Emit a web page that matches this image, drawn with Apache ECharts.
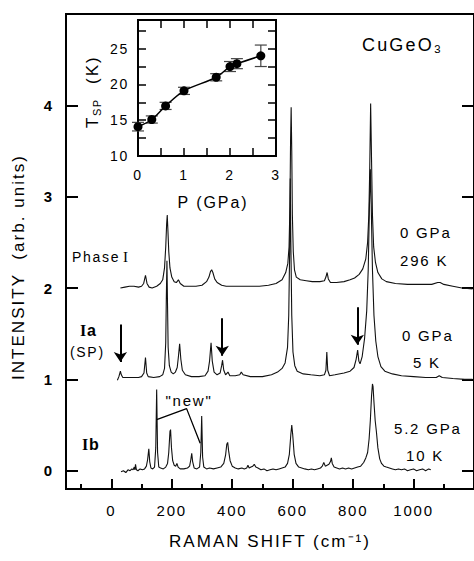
<!DOCTYPE html>
<html>
<head>
<meta charset="utf-8">
<script src="https://cdn.jsdelivr.net/npm/echarts@6/dist/echarts.min.js"></script>
<style>
  html, body { margin: 0; padding: 0; background: #fff; }
  #main { width: 474px; height: 561px; }
  #main text { letter-spacing: 0.12em; }
</style>
</head>
<body>
<div id="main"></div>
<script>
// Raman spectra, [shift cm-1, intensity], offset by 2 / 1 / 0
var phaseI = [
  [30, 2.00], [45, 2.01], [60, 2.02], [75, 2.02], [90, 2.01], [100, 2.02], [107, 2.05], [113, 2.14], [118, 2.05],
  [125, 2.01], [135, 2.00], [150, 2.02], [162, 2.05], [170, 2.09], [176, 2.22], [180, 2.45], [183, 2.70], [185, 2.80],
  [187, 2.65], [190, 2.40], [194, 2.22], [200, 2.12], [208, 2.07], [215, 2.06], [222, 2.09], [228, 2.05], [240, 2.02],
  [260, 2.02], [280, 2.02], [300, 2.03], [315, 2.07], [323, 2.12], [328, 2.18], [332, 2.20], [336, 2.17], [342, 2.10],
  [350, 2.06], [365, 2.03], [380, 2.02], [400, 2.02], [430, 2.02], [460, 2.02], [490, 2.02], [520, 2.03], [545, 2.05],
  [565, 2.09], [577, 2.17], [584, 2.27], [588, 2.45], [591, 2.90], [593, 3.60], [595, 3.98], [597, 3.50], [599, 2.80],
  [602, 2.40], [606, 2.20], [612, 2.12], [625, 2.09], [645, 2.08], [665, 2.07], [690, 2.07], [705, 2.08], [710, 2.12],
  [714, 2.17], [718, 2.10], [725, 2.06], [745, 2.06], [770, 2.07], [790, 2.09], [805, 2.11], [820, 2.15], [832, 2.21],
  [842, 2.32], [848, 2.50], [852, 2.80], [855, 3.30], [858, 4.02], [861, 3.40], [864, 2.80], [868, 2.45], [874, 2.28],
  [882, 2.17], [895, 2.10], [910, 2.07], [940, 2.05], [980, 2.04], [1020, 2.04], [1060, 2.04], [1080, 2.06], [1088, 2.06],
  [1100, 2.04], [1130, 2.02], [1160, 2.00], [1195, 1.99]
];
var phaseIa = [
  [20, 0.99], [25, 1.03], [30, 1.09], [33, 1.05], [38, 1.02], [50, 1.02], [70, 1.02], [90, 1.02], [100, 1.03],
  [108, 1.07], [113, 1.24], [117, 1.07], [122, 1.03], [140, 1.02], [160, 1.03], [170, 1.05], [176, 1.12], [180, 1.40],
  [182, 1.90], [184, 2.30], [186, 1.80], [188, 1.35], [192, 1.15], [198, 1.08], [205, 1.06], [212, 1.08], [218, 1.13],
  [222, 1.25], [226, 1.39], [230, 1.22], [235, 1.10], [245, 1.05], [265, 1.03], [290, 1.03], [310, 1.04], [320, 1.09],
  [325, 1.20], [330, 1.40], [334, 1.20], [340, 1.08], [350, 1.05], [360, 1.07], [365, 1.15], [368, 1.21], [372, 1.10],
  [378, 1.05], [386, 1.08], [392, 1.04], [410, 1.04], [425, 1.05], [430, 1.08], [436, 1.05], [460, 1.03], [500, 1.03],
  [530, 1.05], [550, 1.08], [565, 1.12], [575, 1.18], [583, 1.35], [587, 1.70], [590, 2.40], [592, 3.20], [594, 2.50],
  [597, 1.70], [601, 1.30], [607, 1.15], [615, 1.09], [635, 1.06], [660, 1.05], [690, 1.04], [705, 1.05], [710, 1.10],
  [713, 1.30], [716, 1.10], [722, 1.04], [740, 1.05], [770, 1.07], [790, 1.09], [803, 1.13], [810, 1.22], [815, 1.32],
  [819, 1.20], [823, 1.17], [830, 1.25], [838, 1.45], [845, 1.75], [850, 2.20], [854, 2.90], [857, 3.30], [860, 2.90],
  [864, 2.20], [869, 1.70], [875, 1.42], [882, 1.25], [892, 1.14], [905, 1.09], [930, 1.06], [960, 1.04], [1000, 1.03],
  [1040, 1.02], [1075, 1.02], [1085, 1.04], [1095, 1.02], [1130, 1.01], [1170, 1.00], [1195, 1.00]
];
var phaseIb = [
  [32, -0.01], [40, 0.00], [48, -0.02], [55, 0.01], [62, 0.00], [68, 0.02], [72, 0.01], [76, 0.04], [78, 0.01], [80, 0.07],
  [83, 0.01], [88, 0.00], [95, 0.02], [103, 0.01], [110, 0.02], [116, 0.05], [120, 0.12], [124, 0.24], [127, 0.10],
  [131, 0.03], [137, 0.02], [143, 0.04], [147, 0.25], [150, 0.89], [153, 0.20], [157, 0.04], [163, 0.03], [172, 0.02],
  [180, 0.04], [186, 0.08], [190, 0.20], [194, 0.43], [196, 0.45], [199, 0.25], [203, 0.11], [208, 0.06], [213, 0.05],
  [217, 0.08], [221, 0.04], [228, 0.02], [240, 0.02], [252, 0.03], [259, 0.05], [263, 0.12], [266, 0.19], [269, 0.10],
  [274, 0.03], [283, 0.02], [292, 0.04], [296, 0.20], [299, 0.60], [302, 0.15], [306, 0.04], [315, 0.02], [325, 0.03],
  [338, 0.02], [350, 0.03], [362, 0.04], [372, 0.08], [378, 0.17], [382, 0.29], [385, 0.31], [388, 0.22], [393, 0.11],
  [400, 0.05], [410, 0.03], [420, 0.02], [432, 0.03], [440, 0.02], [448, 0.03], [452, 0.06], [456, 0.03], [462, 0.04],
  [468, 0.05], [473, 0.07], [478, 0.04], [485, 0.03], [495, 0.01], [505, 0.02], [515, 0.00], [525, 0.01], [535, 0.02],
  [545, 0.01], [555, 0.02], [565, 0.03], [575, 0.04], [583, 0.08], [589, 0.18], [594, 0.40], [597, 0.50], [600, 0.40],
  [605, 0.18], [611, 0.08], [620, 0.04], [630, 0.03], [640, 0.02], [652, 0.01], [662, 0.02], [672, 0.01], [682, 0.02],
  [692, 0.03], [698, 0.05], [703, 0.09], [708, 0.05], [714, 0.06], [720, 0.07], [725, 0.10], [728, 0.14], [731, 0.08],
  [737, 0.04], [746, 0.03], [755, 0.02], [765, 0.03], [775, 0.02], [785, 0.03], [795, 0.02], [805, 0.03], [815, 0.04],
  [825, 0.05], [835, 0.09], [842, 0.14], [848, 0.20], [853, 0.35], [857, 0.55], [861, 0.82], [864, 0.95], [866, 0.92],
  [869, 0.75], [873, 0.55], [877, 0.43], [882, 0.25], [888, 0.13], [894, 0.08], [902, 0.05], [910, 0.04], [920, 0.03],
  [930, 0.02], [940, 0.01], [950, 0.02], [960, 0.01], [970, 0.02], [980, 0.00], [990, 0.01], [1000, 0.02], [1010, 0.00],
  [1020, 0.01], [1030, 0.02], [1040, 0.00], [1050, 0.02], [1057, 0.01]
];
var xLabels = [0, 200, 400, 600, 800, 1000];
var xMinorTicks = [-100, 100, 300, 500, 700, 900, 1100];
var yLabels = [0, 1, 2, 3, 4];
// arrows: [x, from y, to y]
var arrows = [[30, 1.60, 1.19], [367, 1.67, 1.26], [814, 1.79, 1.38]];
var newPath = [[150, 0.56], [249, 0.68], [294, 0.30]];

// inset: T_SP vs pressure
var pressure = [0, 0.3, 0.6, 1.0, 1.7, 2.0, 2.15, 2.67];
var tsp = [14.1, 15.1, 17.0, 19.1, 21.0, 22.5, 22.9, 24.0];
var tspErr = [0.6, 0.5, 0.5, 0.5, 0.5, 0.7, 0.7, 1.5];
var insetXTicks = [0, 0.5, 1, 1.5, 2, 2.5, 3];
var insetXLabels = [0, 1, 2, 3];
var insetYTicks = [10, 12.5, 15, 17.5, 20, 22.5, 25, 27.5];
var insetYLabels = [10, 15, 20, 25];

var FONT = 'Liberation Sans';
var myChart = echarts.init(document.getElementById('main'), null, {renderer: 'svg'});

var tspPoints = pressure.map(function (p, i) { return [p, tsp[i]]; });
var tspBars = pressure.map(function (p, i) { return [p, tsp[i], tspErr[i]]; });

function txt(text, x, y, size, extra) {
    var st = {text: text, fontSize: size, fontFamily: FONT, fill: '#000',
        align: 'left', textAlign: 'left', verticalAlign: 'middle', textVerticalAlign: 'middle'};
    for (var k in (extra || {})) st[k] = extra[k];
    return {type: 'text', x: x, y: y, style: st, z: 10};
}
function plain(v) { return String(v); }

var option = {
    animation: false,
    grid: [
        {left: 66, top: 14, width: 413, height: 475, show: true, borderColor: '#000', borderWidth: 2},
        {left: 138, top: 20, width: 138, height: 136, show: true, borderColor: '#000', borderWidth: 2},
        {left: 66, top: 14, width: 413, height: 475, show: false}
    ],
    xAxis: [
        {
            gridIndex: 0, type: 'value', min: -150, max: 1200, position: 'bottom',
            axisLine: {show: false, onZero: false}, splitLine: {show: false},
            axisTick: {inside: true, length: 10, customValues: xLabels, lineStyle: {color: '#000', width: 2}},
            axisLabel: {customValues: xLabels, formatter: plain, margin: 14, fontSize: 15, fontFamily: FONT, color: '#000'},
            name: 'RAMAN SHIFT (cm\u207B\u00B9)', nameLocation: 'middle', nameGap: 44,
            nameTextStyle: {fontSize: 17, fontFamily: FONT, color: '#000'}
        },
        {
            gridIndex: 2, type: 'value', min: -150, max: 1200, position: 'bottom',
            axisLine: {show: false, onZero: false}, splitLine: {show: false}, axisLabel: {show: false},
            axisTick: {inside: true, length: 5, customValues: xMinorTicks, lineStyle: {color: '#000', width: 2}}
        },
        {
            gridIndex: 1, type: 'value', min: 0, max: 3, position: 'bottom',
            axisLine: {show: false, onZero: false}, splitLine: {show: false},
            axisTick: {inside: true, length: 8, customValues: insetXTicks, lineStyle: {color: '#000', width: 1.5}},
            axisLabel: {customValues: insetXLabels, margin: 12, fontSize: 14, fontFamily: FONT, color: '#000'}
        },
        {
            gridIndex: 1, type: 'value', min: 0, max: 3, position: 'top',
            axisLine: {show: false, onZero: false}, splitLine: {show: false}, axisLabel: {show: false},
            axisTick: {inside: true, length: 8, customValues: insetXTicks, lineStyle: {color: '#000', width: 1.5}}
        }
    ],
    yAxis: [
        {
            gridIndex: 0, type: 'value', min: -0.2, max: 5, position: 'left',
            axisLine: {show: false, onZero: false}, splitLine: {show: false},
            axisTick: {inside: true, length: 12, customValues: yLabels, lineStyle: {color: '#000', width: 2}},
            axisLabel: {customValues: yLabels, margin: 12, fontSize: 15, fontWeight: 'bold', fontFamily: FONT, color: '#000'}
        },
        {
            gridIndex: 0, type: 'value', min: -0.2, max: 5, position: 'right',
            axisLine: {show: false, onZero: false}, splitLine: {show: false}, axisLabel: {show: false},
            axisTick: {inside: true, length: 12, customValues: yLabels, lineStyle: {color: '#000', width: 2}}
        },
        {
            gridIndex: 1, type: 'value', min: 10, max: 29, position: 'left',
            axisLine: {show: false, onZero: false}, splitLine: {show: false},
            axisTick: {inside: true, length: 8, customValues: insetYTicks, lineStyle: {color: '#000', width: 1.5}},
            axisLabel: {customValues: insetYLabels, margin: 9, fontSize: 14, fontFamily: FONT, color: '#000'}
        },
        {
            gridIndex: 1, type: 'value', min: 10, max: 29, position: 'right',
            axisLine: {show: false, onZero: false}, splitLine: {show: false}, axisLabel: {show: false},
            axisTick: {inside: true, length: 8, customValues: insetYTicks, lineStyle: {color: '#000', width: 1.5}}
        },
        {gridIndex: 2, type: 'value', min: -0.2, max: 5, show: false}
    ],
    series: [
        {
            name: 'Phase I', type: 'line', xAxisIndex: 0, yAxisIndex: 0, data: phaseI,
            showSymbol: false, silent: true, lineStyle: {color: '#111', width: 1.1}
        },
        {
            name: 'Ia', type: 'line', xAxisIndex: 0, yAxisIndex: 0, data: phaseIa,
            showSymbol: false, silent: true, lineStyle: {color: '#111', width: 1.1},
            markLine: {
                silent: true, symbol: ['none', 'arrow'], symbolSize: 10,
                lineStyle: {color: '#000', width: 2, type: 'solid'},
                label: {show: false},
                data: arrows.map(function (a) {
                    return [{coord: [a[0], a[1]]}, {coord: [a[0], a[2]]}];
                })
            }
        },
        {
            name: 'Ib', type: 'line', xAxisIndex: 0, yAxisIndex: 0, data: phaseIb,
            showSymbol: false, silent: true, lineStyle: {color: '#111', width: 1.1}
        },
        {
            name: 'new', type: 'line', xAxisIndex: 0, yAxisIndex: 0, data: newPath,
            showSymbol: false, silent: true, lineStyle: {color: '#000', width: 1.3}
        },
        {
            name: 'err', type: 'custom', xAxisIndex: 2, yAxisIndex: 2, data: tspBars, clip: false,
            encode: {x: 0, y: 1},
            renderItem: function (params, api) {
                var hi = api.coord([api.value(0), api.value(1) + api.value(2)]);
                var lo = api.coord([api.value(0), api.value(1) - api.value(2)]);
                var w = 6, st = {stroke: '#444', lineWidth: 1.2};
                return {type: 'group', children: [
                    {type: 'line', shape: {x1: hi[0], y1: hi[1], x2: lo[0], y2: lo[1]}, style: st},
                    {type: 'line', shape: {x1: hi[0] - w, y1: hi[1], x2: hi[0] + w, y2: hi[1]}, style: st},
                    {type: 'line', shape: {x1: lo[0] - w, y1: lo[1], x2: lo[0] + w, y2: lo[1]}, style: st}
                ]};
            }
        },
        {
            name: 'Tsp', type: 'line', xAxisIndex: 2, yAxisIndex: 2, data: tspPoints, clip: false,
            smooth: 0.3, symbol: 'circle', symbolSize: 9, silent: true,
            itemStyle: {color: '#000'}, lineStyle: {color: '#000', width: 1.5}
        }
    ],
    graphic: {elements: [
        {type: 'group', x: 18, y: 267, rotation: Math.PI / 2, children: [
            txt('INTENSITY  (arb. units)', 0, 0, 17, {align: 'center', textAlign: 'center'})
        ]},
        {type: 'group', x: 92, y: 128, rotation: Math.PI / 2, children: [
            txt('T', 0, 0, 17),
            txt('SP', 12, 5, 11),
            txt('(K)', 44, 0, 17)
        ]},
        txt('P (GPa)', 213, 202, 16, {align: 'center', textAlign: 'center'}),
        txt('CuGeO\u2083', 362, 45, 18),
        txt('Phase', 72, 257, 14),
        txt('I', 123, 257, 15, {fontFamily: 'Liberation Serif'}),
        txt('0 GPa', 400, 232, 15),
        txt('296 K', 400, 260, 15),
        txt('I', 80, 330, 16, {fontFamily: 'Liberation Serif', fontWeight: 'bold'}),
        txt('a', 87, 330, 16, {fontWeight: 'bold'}),
        txt('(SP)', 70, 352, 14),
        txt('0 GPa', 402, 335, 15),
        txt('5 K', 413, 362, 15),
        txt('I', 82, 444, 16, {fontFamily: 'Liberation Serif', fontWeight: 'bold'}),
        txt('b', 89, 444, 16, {fontWeight: 'bold'}),
        txt('"new"', 189, 400, 15, {align: 'center', textAlign: 'center'}),
        txt('5.2 GPa', 394, 428, 15),
        txt('10 K', 406, 455, 15)
    ]}
};
myChart.setOption(option);
</script>
</body>
</html>
